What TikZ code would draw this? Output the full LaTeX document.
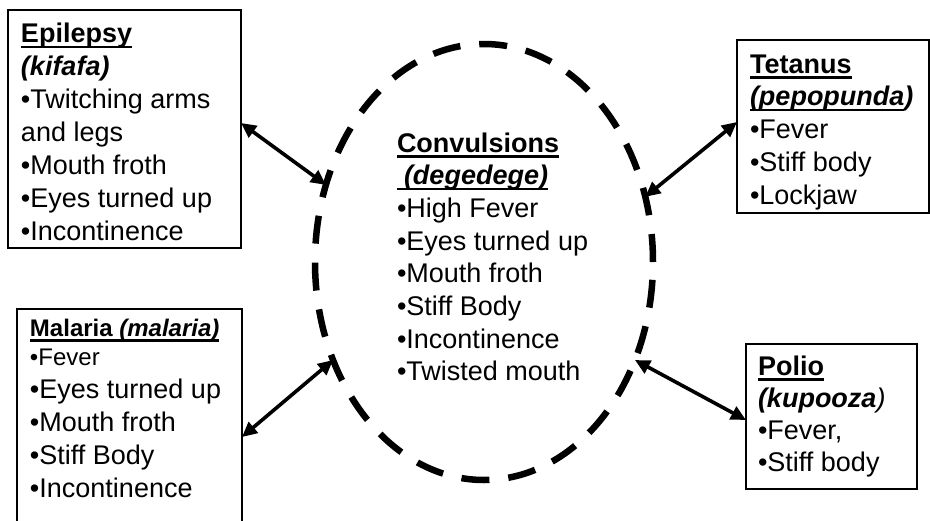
\documentclass[tikz,border=0pt]{standalone}
\usepackage{fontspec}
\setmainfont{Liberation Sans}
\usetikzlibrary{arrows.meta,shapes.geometric}

% underline drawn at a fixed depth, crossing descenders
\newcommand\uln[1]{\leavevmode\setbox0=\hbox{#1}\rlap{\rule[-5.5pt]{\wd0}{2.2pt}}\box0}
% text block of fixed size: width, height, left pad, first baseline, body
\newcommand\cardtext[5]{\begin{minipage}[t][#2][t]{#1}\leftskip=#3\relax\rule{0pt}{#4}#5\end{minipage}}

\begin{document}
\begin{tikzpicture}[x=1pt,y=-1pt,
  card/.style={draw, line width=1.3pt, anchor=north west, inner sep=0pt, outer sep=0pt},
  plain/.style={anchor=north west, inner sep=0pt, outer sep=0pt},
  ring/.style={ellipse, draw, line width=6.5pt, dash pattern=on 28pt off 19pt,
    minimum width=338pt, minimum height=436pt, inner sep=0pt, outer sep=0pt},
  link/.style={line width=3.6pt, {Triangle[length=15pt,width=14pt]}-{Triangle[length=15pt,width=14pt]}}]
\useasboundingbox (0,0) rectangle (930,520);

% central dashed ring and its symptom list
\node[ring] (ring) at (484,262) {};
\node[plain] (convtxt) at (397,122) {\cardtext{220pt}{270pt}{0pt}{30pt}{%
  \fontsize{27}{32.7}\selectfont
  \uln{\textbf{Convulsions}}\par
  \uln{\textbf{\textit{\hspace{7pt}(degedege)}}}\par
  •High Fever\par
  •Eyes turned up\par
  •Mouth froth\par
  •Stiff Body\par
  •Incontinence\par
  •Twisted mouth}};

% Epilepsy
\node[card] (epi) at (8,10) {\cardtext{233pt}{238pt}{13pt}{32.5pt}{%
  \fontsize{27}{33}\selectfont
  \uln{\textbf{Epilepsy}}\par
  \textbf{\textit{(kifafa)}}\par
  •Twitching arms\par
  and legs\par
  •Mouth froth\par
  •Eyes turned up\par
  •Incontinence}};

% Malaria
\node[card] (mal) at (17,309) {\cardtext{225pt}{221pt}{13pt}{27pt}{%
  \fontsize{24}{29}\selectfont
  \uln{\textbf{Malaria \textit{(malaria)}}}\par
  •Fever\par
  \fontsize{27}{33}\selectfont
  •Eyes turned up\par
  •Mouth froth\par
  •Stiff Body\par
  •Incontinence}};

% Tetanus
\node[card] (tet) at (737,40) {\cardtext{192pt}{173pt}{13pt}{33pt}{%
  \fontsize{27}{32.75}\selectfont
  \uln{\textbf{Tetanus}}\par
  \uln{\textbf{\textit{(pepopunda}}}\textbf{\textit{)}}\par
  •Fever\par
  •Stiff body\par
  •Lockjaw}};

% Polio
\node[card] (pol) at (746,344) {\cardtext{171pt}{145pt}{12pt}{31pt}{%
  \fontsize{27}{32}\selectfont
  \uln{\textbf{Polio}}\par
  \textbf{\textit{(kupooza}}\textit{)}\par
  •Fever,\par
  •Stiff body}};

% double-headed links between the boxes and the ring
\draw[link] ([yshift=6pt]epi.east) -- (ring.154.5);
\draw[link] ([yshift=-17.5pt]mal.east) -- (ring.213.9);
\draw[link] ([yshift=4.5pt]tet.west) -- (ring.22.1);
\draw[link] ([yshift=-3.5pt]pol.west) -- (ring.-33.5);
\end{tikzpicture}
\end{document}
